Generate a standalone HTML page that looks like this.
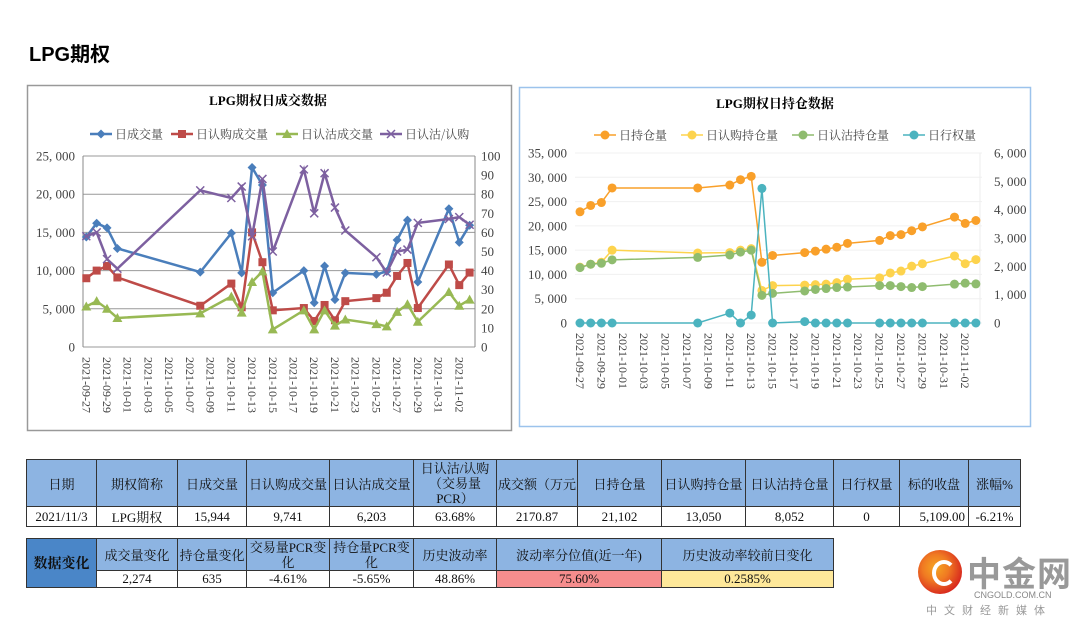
<!DOCTYPE html>
<html><head><meta charset="utf-8">
<style>
body{margin:0;width:1080px;height:624px;background:#fff;position:relative;overflow:hidden;font-family:"Liberation Serif","Noto Serif CJK SC",serif;}
.abs{position:absolute}
table{border-collapse:collapse;position:absolute;font-size:13px;table-layout:fixed}
td{border:1.5px solid #333;text-align:center;padding:0;color:#111;overflow:hidden;white-space:nowrap}
td.h{background:#8db4e2}
</style></head><body>
<div class="abs" style="left:29px;top:38px;font:bold 20px 'Liberation Sans','Noto Sans CJK SC',sans-serif;">LPG期权</div>

<svg class="abs" style="left:0;top:0" width="1080" height="440">
<rect x="27.5" y="85.5" width="484" height="345" fill="#fff" stroke="#999" stroke-width="1.5"/>
<rect x="519.5" y="87.5" width="511" height="339" fill="#fff" stroke="#9cc3ec" stroke-width="1.5"/>
<g id="c1"></g><g id="c2"></g>
</svg>

<table style="left:26px;top:459px;width:994px">
<colgroup><col style="width:70px"><col style="width:81px"><col style="width:69px"><col style="width:83px"><col style="width:84px"><col style="width:83px"><col style="width:81px"><col style="width:84px"><col style="width:84px"><col style="width:88px"><col style="width:66px"><col style="width:69px"><col style="width:52px"></colgroup>
<tr style="height:47px">
<td class="h">日期</td><td class="h">期权简称</td><td class="h">日成交量</td><td class="h">日认购成交量</td><td class="h">日认沽成交量</td><td class="h" style="white-space:normal;line-height:15px">日认沽/认购（交易量PCR）</td><td class="h">成交额（万元</td><td class="h">日持仓量</td><td class="h">日认购持仓量</td><td class="h">日认沽持仓量</td><td class="h">日行权量</td><td class="h">标的收盘</td><td class="h">涨幅%</td></tr>
<tr style="height:17px">
<td>2021/11/3</td><td>LPG期权</td><td>15,944</td><td>9,741</td><td>6,203</td><td>63.68%</td><td>2170.87</td><td>21,102</td><td>13,050</td><td>8,052</td><td>0</td><td style="text-align:right;padding-right:3px">5,109.00</td><td>-6.21%</td></tr>
</table>

<table style="left:26px;top:538px;width:808px">
<colgroup><col style="width:70px"><col style="width:81px"><col style="width:69px"><col style="width:83px"><col style="width:84px"><col style="width:83px"><col style="width:165px"><col style="width:172px"></colgroup>
<tr style="height:32px">
<td rowspan="2" style="background:#4a86c8;font-weight:bold;font-size:14px">数据变化</td>
<td class="h">成交量变化</td><td class="h">持仓量变化</td><td class="h" style="white-space:normal;line-height:15px">交易量PCR变化</td><td class="h" style="white-space:normal;line-height:15px">持仓量PCR变化</td><td class="h">历史波动率</td><td class="h">波动率分位值(近一年)</td><td class="h">历史波动率较前日变化</td></tr>
<tr style="height:17px">
<td>2,274</td><td>635</td><td>-4.61%</td><td>-5.65%</td><td>48.86%</td><td style="background:#f68d8d">75.60%</td><td style="background:#fee89a">0.2585%</td></tr>
</table>

<div class="abs" style="left:918px;top:550px;width:160px;height:70px">
<div class="abs" style="left:0;top:0;width:44px;height:44px;border-radius:50%;background:radial-gradient(circle at 40% 40%,#f5a623 0,#f07a22 35%,#d7261e 75%)"></div>
<div class="abs" style="left:14px;top:10px;width:16px;height:18px;border-radius:50%;border:4px solid #fff;border-right-color:transparent"></div>
<div class="abs" style="left:49px;top:-3px;font:bold 34px 'Noto Sans CJK SC',sans-serif;color:#999;letter-spacing:1px">中金网</div>
<div class="abs" style="left:56px;top:40px;font:9px 'Liberation Sans',sans-serif;color:#888">CNGOLD.COM.CN</div>
<div class="abs" style="left:8px;top:52px;font:11px 'Noto Sans CJK SC',sans-serif;color:#999;letter-spacing:7px">中文财经新媒体</div>
</div>

<script>
const dates = ["09-27","09-28","09-29","09-30","10-08","10-11","10-12","10-13","10-14","10-15","10-18","10-19","10-20","10-21","10-22","10-25","10-26","10-27","10-28","10-29","11-01","11-02","11-03"];
const totalVolume = [14400,16200,15600,12900,9800,14900,9700,23500,21200,7100,10000,5800,10600,6200,9700,9500,9900,14000,16600,8500,18100,13700,15944];
const callVolume = [9000,10000,10600,9100,5400,8300,5200,15000,11100,4800,5100,3400,5500,3500,6000,6400,7100,9300,11000,5100,10800,8100,9741];
const putVolume = [5300,6000,5000,3800,4400,6600,4500,8500,9900,2300,4800,2300,4800,2800,3600,3000,2700,4600,5600,3300,7200,5400,6203];
const pcrRatio = [58,60,46,41,82,78,84,58,88,50,93,70,91,73,61,47,39,50,51,65,67,68,64];
const totalOI = [22900,24200,24800,27800,27800,28400,29500,30200,12500,13900,14500,14800,15200,15600,16400,17000,18000,18200,19000,19800,21800,20500,21102];
const callOI = [11500,12100,12500,15000,14400,14500,15000,15300,6700,7700,7800,7900,8000,8300,9000,9300,10300,10700,11700,12200,13800,12200,13050];
const putOI = [11400,12100,12300,13000,13500,14000,14600,15000,5700,6100,6600,6900,7100,7300,7400,7700,7700,7500,7300,7500,8000,8200,8052];
const exercised = [0,0,0,0,0,350,0,280,4750,0,50,0,0,0,0,0,0,0,0,0,0,0,0];
const leftTicks = [0,5000,10000,15000,20000,25000];
const rightTicks1 = [0,10,20,30,40,50,60,70,80,90,100];
const leftTicks2 = [0,5000,10000,15000,20000,25000,30000,35000];
const rightTicks2 = [0,1000,2000,3000,4000,5000,6000];
const axisLabels = ["09-27","09-29","10-01","10-03","10-05","10-07","10-09","10-11","10-13","10-15","10-17","10-19","10-21","10-23","10-25","10-27","10-29","10-31","11-02"];

const NS="http://www.w3.org/2000/svg";
function dayIdx(s){const [m,d]=s.split("-").map(Number);return m===9?d-27:(m===10?d+3:d+34);}
function fmt(v){return v.toLocaleString("en-US").replace(/,/g,", ");}
function mk(p,tag,a){const e=document.createElementNS(NS,tag);for(const k in a)e.setAttribute(k,a[k]);p.appendChild(e);return e;}

function chart(g,o){
  const X=d=>o.x0+dayIdx(d)*o.dx;
  const YL=v=>o.yb-(v/o.lmax)*(o.yb-o.yt);
  const YR=v=>o.yb-(v/o.rmax)*(o.yb-o.yt);
  let t=mk(g,"text",{x:o.cx,y:o.ty,"text-anchor":"middle","font-size":"13","font-weight":"bold","font-family":"Liberation Serif,Noto Serif CJK SC,serif"});t.textContent=o.title;
  
  
  o.lt.forEach(v=>{const l=mk(g,"line",{x1:o.pl,x2:o.pr,y1:YL(v),y2:YL(v),stroke:o.grid,"stroke-width":1});
    
    
    const s=mk(g,"text",{x:o.pl-8,y:YL(v)+4.5,"text-anchor":"end","font-size":"13",fill:"#444"});s.textContent=fmt(v);
    
    });
  o.rt.forEach(v=>{const s=mk(g,"text",{x:o.pr+o.rpad,y:YR(v)+4.5,"text-anchor":"start","font-size":"13",fill:"#444"});s.textContent=o.rfmt(v);
    
    });
  if(o.axes){mk(g,"line",{x1:o.pl,x2:o.pl,y1:o.yt,y2:o.yb,stroke:"#888"});mk(g,"line",{x1:o.pr,x2:o.pr,y1:o.yt,y2:o.yb,stroke:"#888"});}
  else{mk(g,"line",{x1:o.pr-2,x2:o.pr-2,y1:o.yt,y2:o.yb,stroke:"#eee"});}
  axisLabels.forEach(d=>{const x=X(d);const s=mk(g,"text",{transform:`translate(${x-4},${o.yb+10}) rotate(90)`,"font-size":"12",fill:"#444"});s.textContent="2021-"+d;
    
    });
  o.series.forEach(S=>{
    const Y=S.right?YR:YL;
    const pts=dates.map((d,i)=>[X(d),Y(S.data[i])]);
    const pl=mk(g,"polyline",{points:pts.map(p=>p.join(",")).join(" "),fill:"none",stroke:S.c,"stroke-width":S.w});
    
    
    pts.forEach(p=>marker(g,S.m,p[0],p[1],S.c));
  });
  o.series.forEach((S,i)=>{const lx=o.lx[i],ly=o.ly;
    mk(g,"line",{x1:lx,x2:lx+22,y1:ly,y2:ly,stroke:S.c,"stroke-width":S.w});marker(g,S.m,lx+11,ly,S.c);
    const s=mk(g,"text",{x:lx+25,y:ly+4.5,"font-size":"12",fill:"#444","font-family":"Noto Serif CJK SC,serif"});s.textContent=S.name;
    
    });
}
function marker(g,m,x,y,c){
  let e;
  if(m==="d")e=mk(g,"polygon",{points:`${x},${y-4.5} ${x+4.5},${y} ${x},${y+4.5} ${x-4.5},${y}`,fill:c});
  else if(m==="s")e=mk(g,"rect",{x:x-4,y:y-4,width:8,height:8,fill:c});
  else if(m==="t")e=mk(g,"polygon",{points:`${x},${y-5} ${x+5},${y+4} ${x-5},${y+4}`,fill:c});
  else if(m==="x")e=mk(g,"path",{d:`M${x-4},${y-4}L${x+4},${y+4}M${x-4},${y+4}L${x+4},${y-4}`,stroke:c,"stroke-width":1.5});
  else e=mk(g,"circle",{cx:x,cy:y,r:4.5,fill:c});
  
  
}
chart(document.getElementById("c1"),{title:"LPG期权日成交数据",cx:268,ty:105,x0:86.3,dx:10.36,yt:156,yb:347,pl:83,pr:475,lmax:25000,rmax:100,lt:leftTicks,rt:rightTicks1,rpad:6,rfmt:v=>String(v),grid:"#999",axes:true,
 lx:[90,171,276,380],ly:134,
 series:[{name:"日成交量",data:totalVolume,c:"#4a7ebb",m:"d",w:2.5},{name:"日认购成交量",data:callVolume,c:"#be4b48",m:"s",w:2.5},{name:"日认沽成交量",data:putVolume,c:"#98b954",m:"t",w:2.5},{name:"日认沽/认购",data:pcrRatio,c:"#7d60a0",m:"x",w:2.5,right:true}]});
chart(document.getElementById("c2"),{title:"LPG期权日持仓数据",cx:775,ty:108,x0:580,dx:10.7,yt:153,yb:323,pl:575,pr:982,lmax:35000,rmax:6000,lt:leftTicks2,rt:rightTicks2,rpad:12,rfmt:v=>fmt(v),grid:"#f0f0f0",axes:false,
 lx:[594,681,792,903],ly:135,
 series:[{name:"日持仓量",data:totalOI,c:"#f9a02a",m:"c",w:1.5},{name:"日认购持仓量",data:callOI,c:"#fdd34d",m:"c",w:1.5},{name:"日认沽持仓量",data:putOI,c:"#8fbc6f",m:"c",w:1.5},{name:"日行权量",data:exercised,c:"#4bb3bf",m:"c",w:1.5,right:true}]});
</script>
</body></html>
